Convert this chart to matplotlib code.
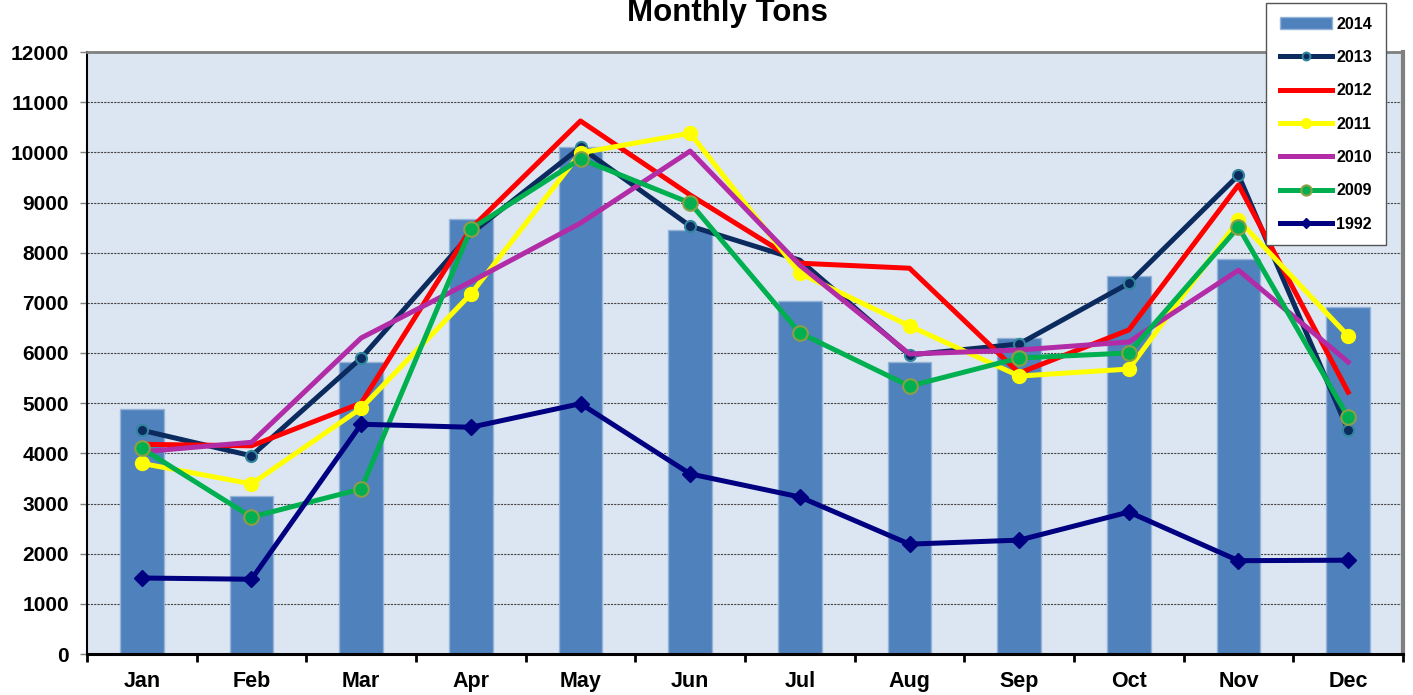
import numpy as np
import matplotlib.pyplot as plt

plt.rcParams['font.family'] = ['Liberation Sans', 'DejaVu Sans']

# Monthly tonnage per year
months = ['Jan', 'Feb', 'Mar', 'Apr', 'May', 'Jun', 'Jul', 'Aug', 'Sep', 'Oct', 'Nov', 'Dec']
tons_2014 = [4880, 3150, 5820, 8670, 10110, 8450, 7035, 5820, 6300, 7530, 7870, 6915]
tons_2013 = [4460, 3950, 5900, 8380, 10100, 8530, 7850, 5960, 6180, 7390, 9545, 4460]
tons_2012 = [4180, 4150, 5000, 8480, 10625, 9150, 7790, 7690, 5600, 6460, 9350, 5220]
tons_2011 = [3800, 3390, 4900, 7175, 9990, 10380, 7590, 6540, 5540, 5680, 8650, 6340]
tons_2010 = [4030, 4220, 6300, 7420, 8590, 10025, 7750, 5980, 6060, 6220, 7650, 5820]
tons_2009 = [4100, 2730, 3290, 8470, 9870, 8990, 6400, 5340, 5900, 6000, 8510, 4720]
tons_1992 = [1515, 1490, 4580, 4520, 4990, 3590, 3130, 2190, 2270, 2830, 1860, 1870]

x = np.arange(len(months))

fig = plt.figure(figsize=(14.13, 6.95), dpi=100)
ax = fig.add_axes([87 / 1413, 1 - 654 / 695, (1403 - 87) / 1413, (654 - 52) / 695])
ax.set_facecolor('#DCE6F2')

# bars for the current year
ax.bar(x, tons_2014, width=0.4, color='#4F81BD', edgecolor='#95B3D7', linewidth=1,
       label='2014', zorder=2)

# previous years as lines (plotted in legend order, later ones on top)
lw = 3.6
ax.plot(x, tons_2013, color='#0B2A5E', lw=lw, marker='o', ms=8, mfc='#0B2A5E',
        mec='#31859C', mew=1.5, markevery=[0, 1, 2, 4, 5, 7, 8, 9, 10, 11],
        label='2013', zorder=3)
ax.plot(x, tons_2012, color='#FF0000', lw=lw, label='2012', zorder=4)
ax.plot(x, tons_2011, color='#FFFF00', lw=lw, marker='o', ms=10, mfc='#FFFF00',
        mec='#FFFF00', label='2011', zorder=5)
ax.plot(x, tons_2010, color='#B12CA6', lw=lw, label='2010', zorder=6)
ax.plot(x, tons_2009, color='#00B050', lw=lw, marker='o', ms=10.5, mfc='#00B050',
        mec='#8A9F45', mew=1.5, label='2009', zorder=7)
ax.plot(x, tons_1992, color='#000080', lw=lw, marker='D', ms=8, mfc='#000080',
        mec='#000080', label='1992', zorder=8)

# axes, ticks and grid
ax.set_xlim(-0.5, 11.5)
ax.set_ylim(0, 12000)
ax.set_yticks(np.arange(0, 12001, 1000))
ax.tick_params(axis='y', labelsize=15, length=5, width=1, color='#808080', pad=8)
for lab in ax.get_yticklabels():
    lab.set_fontweight('bold')

ax.set_xticks(np.arange(-0.5, 12, 1))
ax.set_xticklabels([])
ax.set_xticks(x, minor=True)
ax.set_xticklabels(months, minor=True, fontsize=15.5, fontweight='bold')
ax.tick_params(axis='x', which='major', length=6, width=2, color='black')
ax.tick_params(axis='x', which='minor', length=0, pad=12)

ax.set_axisbelow(True)
ax.yaxis.grid(True, color='#444444', linestyle=(0, (2, 1)), linewidth=0.8, zorder=0)

ax.spines['left'].set_linewidth(1.5)
ax.spines['left'].set_color('black')
ax.spines['bottom'].set_linewidth(2.2)
ax.spines['bottom'].set_color('black')
ax.spines['top'].set_linewidth(2)
ax.spines['top'].set_color('#808080')
ax.spines['right'].set_linewidth(3)
ax.spines['right'].set_color('#808080')

fig.text(0.515, 1 - 21 / 695, 'Monthly Tons', ha='center', va='baseline',
         fontsize=22.5, fontweight='bold')

# legend with the bar series first
handles, labels = ax.get_legend_handles_labels()
order = [6, 0, 1, 2, 3, 4, 5]
leg = ax.legend([handles[i] for i in order], [labels[i] for i in order],
                loc='upper left', bbox_to_anchor=(1266 / 1413, 1 - 3 / 695),
                bbox_transform=fig.transFigure, fancybox=False, framealpha=1,
                edgecolor='#555555', prop={'weight': 'bold', 'size': 11.5},
                handlelength=3.3, labelspacing=1.15, handletextpad=0.25,
                borderpad=0.85, borderaxespad=0, markerscale=0.7)
leg.get_frame().set_linewidth(1)
leg.set_zorder(20)

fig.savefig('out.png', dpi=100)
